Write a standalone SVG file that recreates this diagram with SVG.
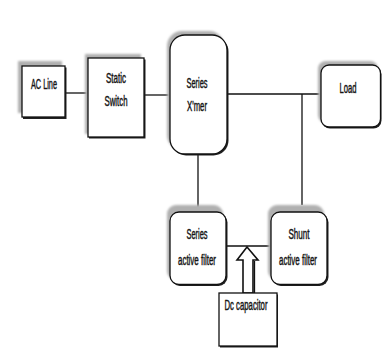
<svg xmlns="http://www.w3.org/2000/svg" width="382" height="349" viewBox="0 0 382 349">
<style>
.sh{fill:#b0b0b0;stroke:none;filter:url(#blur)}
.dk{fill:#222;stroke:none}
.bx{fill:#fff;stroke:#111;stroke-width:1.3}
.t{font-family:"Liberation Sans",Arial,sans-serif;font-size:14px;fill:#151515;stroke:#151515;stroke-width:0.45;text-anchor:middle}
.ln{stroke:#111;stroke-width:1.3;fill:none}
</style>
<defs>
<filter id="blur" x="-20%" y="-20%" width="140%" height="140%"><feGaussianBlur stdDeviation="1"/></filter>
</defs>
<rect width="382" height="349" fill="#fff"/>
<g id="connectors">
<line class="ln" x1="65" y1="93" x2="88" y2="93"/>
<line class="ln" x1="144" y1="95" x2="170" y2="95"/>
<line class="ln" x1="227" y1="94" x2="321" y2="94"/>
<line class="ln" x1="302" y1="94" x2="302" y2="205"/>
<line class="ln" x1="198" y1="154" x2="198" y2="213"/>
<line class="ln" x1="226" y1="246" x2="271" y2="246"/>
</g>
<g id="ac-line">
<rect class="sh" x="18" y="61" width="44" height="52"/>
<rect class="dk" x="23" y="67.5" width="43.5" height="51.5"/>
<rect class="bx" x="22" y="66" width="43" height="51"/>
<text class="t" x="44" y="89" textLength="26" lengthAdjust="spacingAndGlyphs">AC Line</text>
</g>
<g id="static-switch">
<rect class="sh" x="85" y="54" width="56" height="80"/>
<rect class="dk" x="89" y="59.5" width="56.5" height="79"/>
<rect class="bx" x="88" y="58" width="56" height="79"/>
<text class="t" x="116" y="83" textLength="20" lengthAdjust="spacingAndGlyphs">Static</text>
<text class="t" x="116" y="106" textLength="23" lengthAdjust="spacingAndGlyphs">Switch</text>
</g>
<g id="series-xmer">
<rect class="sh" x="167" y="31" width="57" height="119" rx="15"/>
<rect class="dk" x="171" y="36.5" width="57.5" height="119" rx="15"/>
<rect class="bx" x="170" y="35" width="57" height="119" rx="15"/>
<text class="t" x="197" y="88" textLength="21" lengthAdjust="spacingAndGlyphs">Series</text>
<text class="t" x="197" y="111" textLength="20" lengthAdjust="spacingAndGlyphs">X'mer</text>
</g>
<g id="load">
<rect class="sh" x="318" y="61" width="60" height="62" rx="8"/>
<rect class="dk" x="322" y="66.5" width="59.5" height="62" rx="8"/>
<rect class="bx" x="321" y="65" width="59.5" height="62" rx="8"/>
<text class="t" x="348" y="93" textLength="17" lengthAdjust="spacingAndGlyphs">Load</text>
</g>
<g id="series-filter">
<rect class="sh" x="167" y="205" width="56" height="75" rx="9"/>
<rect class="dk" x="171" y="213.5" width="56.5" height="72.5" rx="9"/>
<rect class="bx" x="170" y="212" width="56" height="72.5" rx="9"/>
<text class="t" x="197" y="239" textLength="21" lengthAdjust="spacingAndGlyphs">Series</text>
<text class="t" x="197" y="265" textLength="38" lengthAdjust="spacingAndGlyphs">active filter</text>
</g>
<g id="shunt-filter">
<rect class="sh" x="268" y="205" width="56" height="75" rx="9"/>
<rect class="dk" x="272" y="213.5" width="56.5" height="72.5" rx="9"/>
<rect class="bx" x="271" y="212" width="56" height="72.5" rx="9"/>
<text class="t" x="299" y="239" textLength="21" lengthAdjust="spacingAndGlyphs">Shunt</text>
<text class="t" x="298" y="265" textLength="38" lengthAdjust="spacingAndGlyphs">active filter</text>
</g>
<g id="dc-capacitor">
<polygon points="247,247 258,260 253,260 253,293 243,293 243,260 237,260" fill="#fff" stroke="#111" stroke-width="1.6" stroke-linejoin="miter"/>
<polyline points="254.5,261 254.5,293" class="ln" stroke-width="1"/>
<rect class="dk" x="220" y="294.5" width="58" height="53"/>
<rect class="bx" x="219" y="293" width="58" height="53"/>
<text class="t" x="246" y="310" textLength="43" lengthAdjust="spacingAndGlyphs">Dc capacitor</text>
</g>
</svg>
